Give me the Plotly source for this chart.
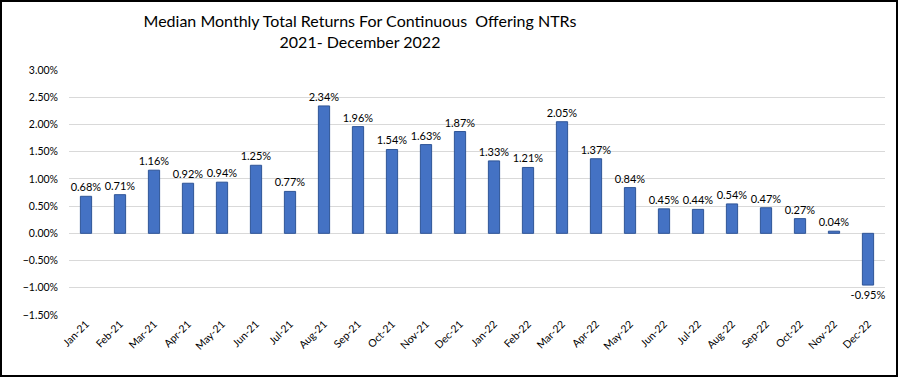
import plotly.graph_objects as go

months = ["Jan-21", "Feb-21", "Mar-21", "Apr-21", "May-21", "Jun-21", "Jul-21", "Aug-21",
          "Sep-21", "Oct-21", "Nov-21", "Dec-21", "Jan-22", "Feb-22", "Mar-22", "Apr-22",
          "May-22", "Jun-22", "Jul-22", "Aug-22", "Sep-22", "Oct-22", "Nov-22", "Dec-22"]
returns = [0.0068, 0.0071, 0.0116, 0.0092, 0.0094, 0.0125, 0.0077, 0.0234,
           0.0196, 0.0154, 0.0163, 0.0187, 0.0133, 0.0121, 0.0205, 0.0137,
           0.0084, 0.0045, 0.0044, 0.0054, 0.0047, 0.0027, 0.0004, -0.0095]
y_ticks = [-0.015, -0.01, -0.005, 0.0, 0.005, 0.01, 0.015, 0.02, 0.025, 0.03]

W, H = 900, 379
L, R, T, B = 69, 15, 70, 64
pw, ph = W - L - R, H - T - B

def px(x):
    return (x - L) / pw

def py(y):
    return (H - B - y) / ph

fig = go.Figure()
fig.add_trace(go.Bar(
    x=months, y=returns,
    marker=dict(color="#4472C4", line=dict(color="#2F5597", width=1)),
    text=[f"{v*100:.2f}%" for v in returns],
    textposition="outside",
    constraintext="none",
    textfont=dict(size=11, color="#000000"),
    cliponaxis=False,
    width=0.33,
    hoverinfo="skip",
))

fig.update_layout(
    width=W, height=H,
    margin=dict(l=L, r=R, t=T, b=B, autoexpand=False),
    paper_bgcolor="white", plot_bgcolor="white",
    font=dict(family="Lato, Open Sans, sans-serif", color="#000000"),
    showlegend=False,
    title=dict(text="Median Monthly Total Returns For Continuous  Offering NTRs<br>2021- December 2022",
               x=360 / W, xanchor="center", y=1 - 27 / H, yanchor="middle",
               font=dict(size=16, color="#000000")),
    xaxis=dict(tickangle=-45, tickfont=dict(size=10.5), showgrid=False, showline=False,
               ticks="", type="category", automargin=False),
    yaxis=dict(range=[-0.015, 0.03], tickvals=y_ticks, tickformat=".2%",
               tickfont=dict(size=10.5), gridcolor="#D9D9D9", gridwidth=1,
               zeroline=False, showline=False, ticks="", ticklabelstandoff=10,
               automargin=False),
    shapes=[dict(type="rect", xref="paper", yref="paper",
                 x0=px(1), x1=px(W - 3), y0=py(H - 3), y1=py(1),
                 line=dict(color="#000000", width=2), fillcolor="rgba(0,0,0,0)")],
)

fig.write_html("out.html", config={"displayModeBar": False},
               post_script="document.body.style.margin='0';document.body.style.overflow='hidden';")
